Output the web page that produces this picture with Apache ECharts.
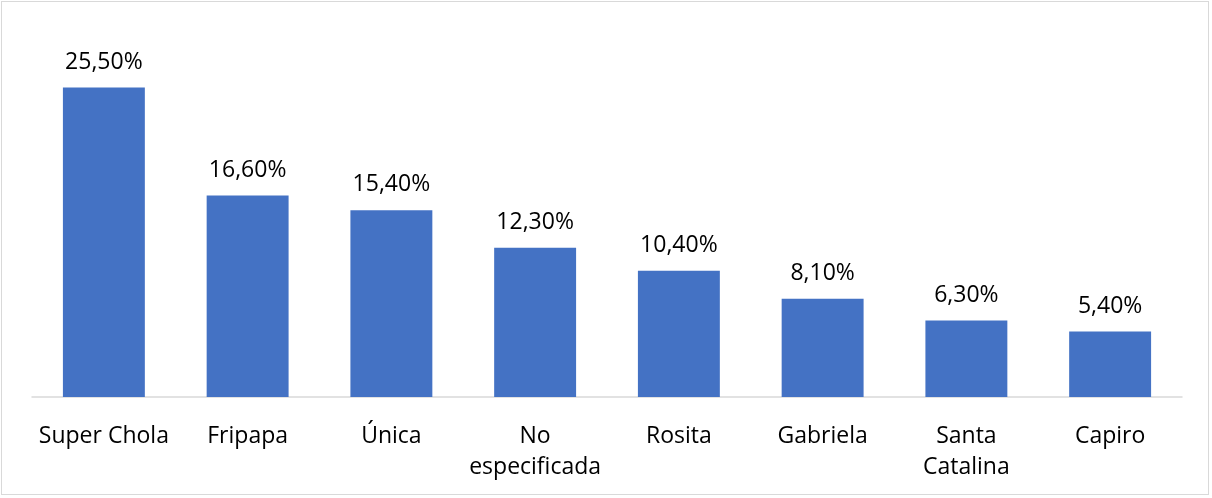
<!DOCTYPE html>
<html>
<head>
<meta charset="utf-8">
<script src="https://cdn.jsdelivr.net/npm/echarts@6/dist/echarts.min.js"></script>
<style>
  html, body { margin: 0; padding: 0; background: #fff; }
  #chart { position: absolute; left: 1px; top: 1px; width: 1208px; height: 494px; border: 1px solid #d9d9d9; box-sizing: border-box; }
</style>
</head>
<body>
<div id="chart"></div>
<script>
const categories = ['Super Chola', 'Fripapa', 'Única', 'No\nespecificada', 'Rosita', 'Gabriela', 'Santa\nCatalina', 'Capiro'];
const values = [25.5, 16.6, 15.4, 12.3, 10.4, 8.1, 6.3, 5.4];

const chart = echarts.init(document.getElementById('chart'));
const option = {
  animation: false,
  grid: { left: 30, right: 26, top: 31, bottom: 97 },
  xAxis: {
    type: 'category',
    data: categories,
    axisLine: { lineStyle: { color: '#d9d9d9', width: 1.5 } },
    axisTick: { show: false },
    axisLabel: {
      color: '#000',
      fontFamily: 'Open Sans',
      fontSize: 23,
      lineHeight: 31,
      margin: 24,
      interval: 0
    }
  },
  yAxis: {
    type: 'value',
    min: 0,
    max: 30,
    show: false,
    splitLine: { show: false }
  },
  series: [{
    type: 'bar',
    data: values,
    barWidth: '57%',
    itemStyle: { color: '#4472c4' },
    label: {
      show: true,
      position: 'top',
      distance: 14,
      color: '#000',
      fontFamily: 'Open Sans',
      fontSize: 23,
      formatter: p => p.value.toFixed(2).replace('.', ',') + '%'
    }
  }]
};
chart.setOption(option);
</script>
</body>
</html>
